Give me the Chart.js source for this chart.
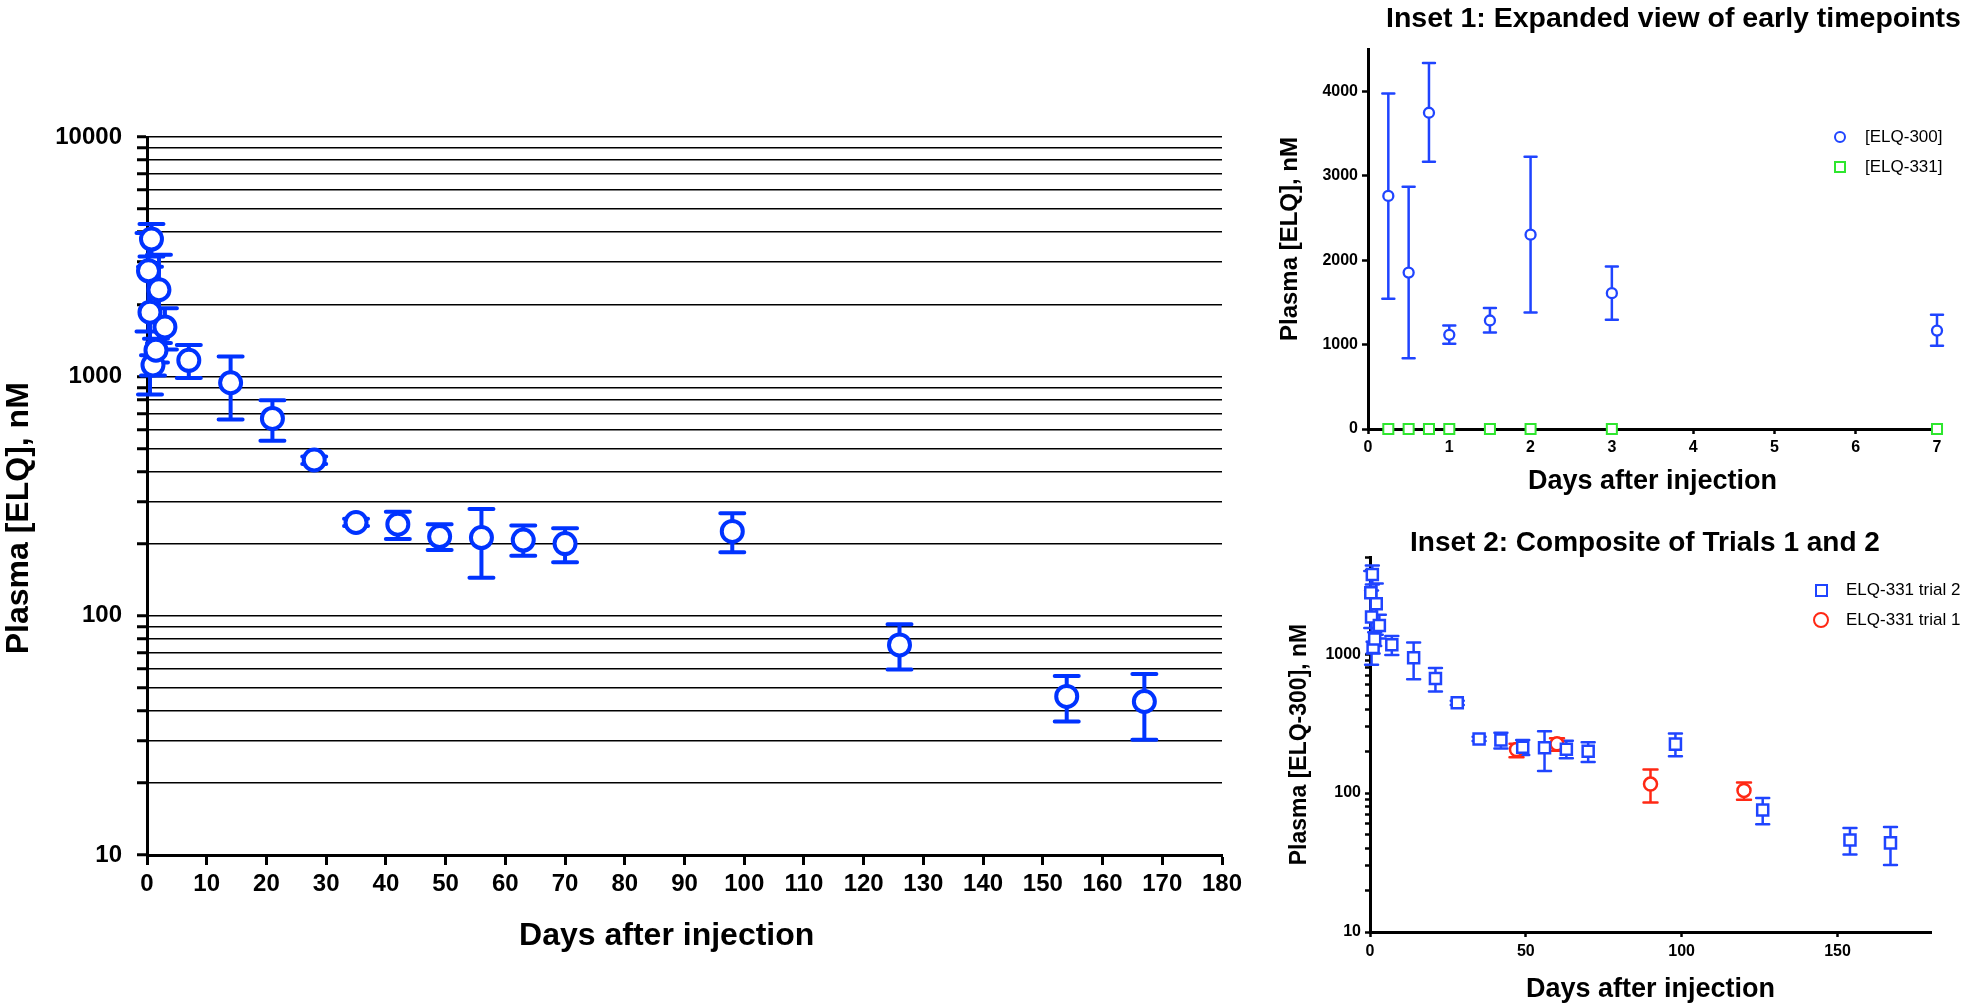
<!DOCTYPE html>
<html>
<head>
<meta charset="utf-8">
<script src="https://cdn.jsdelivr.net/npm/chart.js@4.4.1/dist/chart.umd.min.js"></script>
<style>
  html, body { margin: 0; padding: 0; background: #fff; overflow: hidden; }
  body { width: 1961px; height: 1007px; position: relative; font-family: "Liberation Sans", Arial, Helvetica, sans-serif; color: #000; }
  canvas { position: absolute; }
  #main { left: 0; top: 0; }
  #inset1 { left: 1260px; top: 0; }
  #inset2 { left: 1260px; top: 510px; }
  .inset-title { position: absolute; font-weight: bold; white-space: nowrap; line-height: 34px; }
  #t1 { left: 1386px; top: 0; font-size: 28.5px; }
  #t2 { left: 1410px; top: 525px; font-size: 28px; }
  .legend { position: absolute; width: 200px; }
  .legend .item { display: flex; align-items: center; height: 30px; white-space: nowrap; }
  .legend .box { width: 16px; flex: none; display: flex; justify-content: center; margin-right: 17px; }
  .legend .mark { box-sizing: border-box; display: block; background: #fff; }
  #lg1 { left: 1832px; top: 122px; font-size: 17px; }
  #lg2 { left: 1813px; top: 575px; font-size: 17px; }
</style>
</head>
<body>
<canvas id="main" width="1250" height="1007"></canvas>
<canvas id="inset1" width="701" height="510"></canvas>
<canvas id="inset2" width="701" height="497"></canvas>
<div class="inset-title" id="t1">Inset 1: Expanded view of early timepoints</div>
<div class="inset-title" id="t2">Inset 2: Composite of Trials 1 and 2</div>
<div class="legend" id="lg1"></div>
<div class="legend" id="lg2"></div>
<script>
Chart.defaults.font.family = '"Liberation Sans", Arial, Helvetica, sans-serif';
Chart.defaults.color = '#000';

const BLUE_MAIN = '#0033ff';
const BLUE = '#1f44ff';
const GREEN = '#2ee62e';
const RED = '#ff2814';

// trial 2 sampling days and plasma ELQ-300 (nM): mean, lower and upper error bar
const days = [0.25, 0.5, 0.75, 1, 1.5, 2, 3, 7, 14, 21, 28, 35, 42, 49, 56, 63, 70, 98, 126, 154, 167];
const elq300 = [2760, 1852, 3745, 1115, 1285, 2301, 1608, 1166, 940, 667, 447, 245, 241, 214, 212, 207, 200, 225, 75.5, 46, 43.8];
const elq300Low = [1541, 839, 3165, 1009, 1143, 1379, 1293, 985, 660, 538, 430, 237, 209, 188, 144, 178, 167, 184, 59.6, 36.1, 30.3];
const elq300High = [3972, 2869, 4335, 1226, 1434, 3224, 1923, 1352, 1211, 794, 462, 254, 272, 241, 279, 238, 232, 268, 92, 56, 57];

// ELQ-331 itself in the first week (all below detection)
const earlyDays = [0.25, 0.5, 0.75, 1, 1.5, 2, 3, 7];
const elq331 = [0, 0, 0, 0, 0, 0, 0, 0];

// trial 1
const trial1Days = [47, 60, 90, 120];
const trial1 = [206, 226, 116, 104.5];
const trial1Low = [181, 202, 85.5, 89.5];
const trial1High = [226, 248, 148, 119];

// labelled ticks
const mainDecades = [10, 100, 1000, 10000];
const inset1YTicks = [0, 1000, 2000, 3000, 4000];
const inset2Decades = [10, 100, 1000];

const pts = (xs, ys) => xs.map((x, i) => ({ x, y: ys[i] }));

// 1..9 x 10^n tick values between min and max
function logTicks(min, max) {
    const out = [];
    for (let d = min; d < max; d *= 10) {
        for (let k = 1; k < 10; k++) {
            if (k * d <= max) out.push(k * d);
        }
    }
    if (out[out.length - 1] !== max) out.push(max);
    return out;
}

// vertical error bars with caps, drawn under the symbols
const errorBars = {
    id: 'errorBars',
    beforeDatasetsDraw(chart) {
        const { ctx, scales: { x, y } } = chart;
        chart.data.datasets.forEach((ds) => {
            if (!ds.errLow) return;
            ctx.save();
            ctx.strokeStyle = ds.borderColor;
            ctx.lineWidth = ds.errWidth;
            ctx.lineCap = 'round';
            ds.data.forEach((pt, j) => {
                const lo = ds.errLow[j];
                const hi = ds.errHigh[j];
                if (lo == null || hi == null) return;
                const px = x.getPixelForValue(pt.x);
                const yLo = y.getPixelForValue(lo);
                const yHi = y.getPixelForValue(hi);
                const c = ds.capWidth / 2;
                ctx.beginPath();
                ctx.moveTo(px, yLo);
                ctx.lineTo(px, yHi);
                ctx.moveTo(px - c, yLo);
                ctx.lineTo(px + c, yLo);
                ctx.moveTo(px - c, yHi);
                ctx.lineTo(px + c, yHi);
                ctx.stroke();
            });
            ctx.restore();
        });
    },
};

const bold = (size) => ({ size, weight: 'bold' });

const baseOptions = (padding) => ({
    responsive: false,
    animation: false,
    events: [],
    devicePixelRatio: 1,
    layout: { padding },
    plugins: { legend: { display: false }, tooltip: { enabled: false } },
});

// main panel
new Chart(document.getElementById('main'), {
    type: 'scatter',
    data: {
        datasets: [{
            label: 'ELQ-300',
            data: pts(days, elq300),
            errLow: elq300Low,
            errHigh: elq300High,
            errWidth: 4,
            capWidth: 24,
            borderColor: BLUE_MAIN,
            backgroundColor: '#fff',
            pointStyle: 'circle',
            pointRadius: 10.5,
            borderWidth: 4,
            clip: false,
        }],
    },
    options: {
        ...baseOptions({ top: 137, right: 28, left: 0, bottom: 0 }),
        scales: {
            x: {
                type: 'linear',
                min: 0,
                max: 180,
                afterFit: (s) => { s.height = 152; },
                ticks: { stepSize: 10, padding: 5, maxRotation: 0, autoSkip: false, font: bold(24) },
                grid: { drawOnChartArea: false, tickLength: 10, tickWidth: 3, tickColor: '#000' },
                border: { color: '#000', width: 3 },
                title: { display: true, text: 'Days after injection    ', font: bold(32), padding: { top: 0, bottom: 52 } },
            },
            y: {
                type: 'logarithmic',
                min: 10,
                max: 10000,
                afterFit: (s) => { s.width = 147; },
                afterBuildTicks: (s) => { s.ticks = logTicks(10, 10000).map((v) => ({ value: v })); },
                ticks: {
                    padding: 15,
                    autoSkip: false,
                    font: bold(24),
                    callback: (v) => (mainDecades.includes(v) ? String(v) : ''),
                },
                grid: { color: '#000', lineWidth: 1.5, tickLength: 10, tickWidth: 3, tickColor: '#000' },
                border: { color: '#000', width: 3 },
                title: { display: true, text: 'Plasma [ELQ], nM     ', font: bold(32), padding: { top: 0, bottom: 0 } },
            },
        },
    },
    plugins: [errorBars],
});

// inset 1: linear view of the first week
const inset1 = new Chart(document.getElementById('inset1'), {
    type: 'scatter',
    data: {
        datasets: [{
            label: '[ELQ-300]',
            data: pts(earlyDays, elq300),
            errLow: elq300Low,
            errHigh: elq300High,
            errWidth: 2.5,
            capWidth: 12,
            borderColor: BLUE,
            backgroundColor: '#fff',
            pointStyle: 'circle',
            pointRadius: 5,
            borderWidth: 2.3,
            clip: false,
        }, {
            label: '[ELQ-331]',
            data: pts(earlyDays, elq331),
            borderColor: GREEN,
            backgroundColor: '#fff',
            pointStyle: 'rect',
            pointRadius: 7.1,
            borderWidth: 2,
            clip: false,
        }],
    },
    options: {
        ...baseOptions({ top: 49, right: 24, left: 0, bottom: 0 }),
        scales: {
            x: {
                type: 'linear',
                min: 0,
                max: 7,
                afterFit: (s) => { s.height = 81; },
                ticks: { stepSize: 1, padding: 4, maxRotation: 0, autoSkip: false, font: bold(16) },
                grid: { drawOnChartArea: false, tickLength: 5, tickWidth: 2.5, tickColor: '#000' },
                border: { color: '#000', width: 3 },
                title: { display: true, text: 'Days after injection', font: bold(27), padding: { top: 0, bottom: 12 } },
            },
            y: {
                type: 'linear',
                min: 0,
                max: 4500,
                afterFit: (s) => { s.width = 108; },
                afterBuildTicks: (s) => { s.ticks = inset1YTicks.map((v) => ({ value: v })); },
                ticks: { padding: 4, autoSkip: false, font: bold(16), callback: (v) => String(v) },
                grid: { drawOnChartArea: false, tickLength: 6, tickWidth: 2.5, tickColor: '#000' },
                border: { color: '#000', width: 3 },
                title: { display: true, text: 'Plasma [ELQ], nM', font: bold(24), padding: { top: 16, bottom: 0 } },
            },
        },
    },
    plugins: [errorBars],
});

// inset 2: both trials on a log scale
const inset2 = new Chart(document.getElementById('inset2'), {
    type: 'scatter',
    data: {
        datasets: [{
            label: 'ELQ-331 trial 2',
            data: pts(days, elq300),
            errLow: elq300Low,
            errHigh: elq300High,
            errWidth: 2.5,
            capWidth: 13,
            borderColor: BLUE,
            backgroundColor: '#fff',
            pointStyle: 'rect',
            pointRadius: 7.8,
            borderWidth: 2.5,
            order: 0,
            clip: false,
        }, {
            label: 'ELQ-331 trial 1',
            data: pts(trial1Days, trial1),
            errLow: trial1Low,
            errHigh: trial1High,
            errWidth: 2.5,
            capWidth: 14,
            borderColor: RED,
            backgroundColor: '#fff',
            pointStyle: 'circle',
            pointRadius: 6.5,
            borderWidth: 2.5,
            order: 1,
            clip: false,
        }],
    },
    options: {
        ...baseOptions({ top: 47, right: 30, left: 0, bottom: 0 }),
        scales: {
            x: {
                type: 'linear',
                min: 0,
                max: 180,
                afterFit: (s) => { s.height = 75; },
                ticks: { stepSize: 50, includeBounds: false, padding: 5, maxRotation: 0, font: bold(16) },
                grid: { drawOnChartArea: false, tickLength: 5, tickWidth: 2.5, tickColor: '#000' },
                border: { color: '#000', width: 3 },
                title: { display: true, text: 'Days after injection', font: bold(27), padding: { top: 0, bottom: 1 } },
            },
            y: {
                type: 'logarithmic',
                min: 10,
                max: 5000,
                afterFit: (s) => { s.width = 110; },
                afterBuildTicks: (s) => { s.ticks = logTicks(10, 5000).map((v) => ({ value: v })); },
                ticks: {
                    padding: 4,
                    autoSkip: false,
                    font: bold(16),
                    callback: (v) => (inset2Decades.includes(v) ? String(v) : ''),
                },
                grid: { drawOnChartArea: false, tickLength: 5, tickWidth: 2.5, tickColor: '#000' },
                border: { color: '#000', width: 3 },
                title: { display: true, text: 'Plasma [ELQ-300], nM', font: bold(23), padding: { top: 26, bottom: 0 } },
            },
        },
    },
    plugins: [errorBars],
});

// html legends built from the datasets
function buildLegend(chart, el, sizes) {
    chart.data.datasets.forEach((ds) => {
        const row = document.createElement('div');
        row.className = 'item';
        const box = document.createElement('span');
        box.className = 'box';
        const mark = document.createElement('span');
        mark.className = 'mark';
        const s = sizes[ds.pointStyle];
        mark.style.width = s.size + 'px';
        mark.style.height = s.size + 'px';
        mark.style.border = s.border + 'px solid ' + ds.borderColor;
        if (ds.pointStyle === 'circle') mark.style.borderRadius = '50%';
        box.appendChild(mark);
        row.appendChild(box);
        const text = document.createElement('span');
        text.textContent = ds.label;
        row.appendChild(text);
        el.appendChild(row);
    });
}

buildLegend(inset1, document.getElementById('lg1'), {
    circle: { size: 12, border: 2.3 },
    rect: { size: 12, border: 2 },
});
buildLegend(inset2, document.getElementById('lg2'), {
    rect: { size: 13, border: 2.5 },
    circle: { size: 16, border: 2.5 },
});
</script>
</body>
</html>
